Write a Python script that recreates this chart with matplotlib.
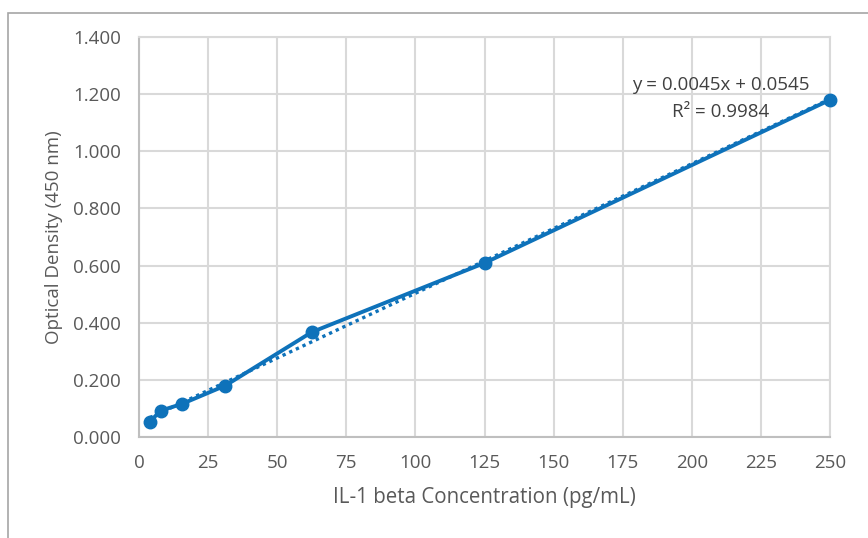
import matplotlib.pyplot as plt
import numpy as np
from matplotlib.patches import Rectangle

# standard curve readings
conc = [3.9, 7.8, 15.6, 31.25, 62.5, 125, 250]
od = [0.053, 0.092, 0.116, 0.180, 0.367, 0.609, 1.180]
x_ticks = [0, 25, 50, 75, 100, 125, 150, 175, 200, 225, 250]
y_ticks = [0.0, 0.2, 0.4, 0.6, 0.8, 1.0, 1.2, 1.4]
eq_text = "y = 0.0045x + 0.0545"
r2_text = "R² = 0.9984"

blue = "#0E72BA"
grid = "#D9D9D9"
txt = "#595959"

plt.rcParams['font.family'] = ['Open Sans', 'DejaVu Sans']

fig = plt.figure(figsize=(8.68, 5.38), dpi=100)
ax = fig.add_axes([139 / 868, 101 / 538, 691 / 868, 400 / 538])

# outer chart frame (cropped at the right and bottom)
fig.patches.append(Rectangle((8 / 868, -0.1), 1.2, 0.1 + 525 / 538,
                             transform=fig.transFigure, fill=False,
                             edgecolor="#A6A6A6", linewidth=1.2))

ax.plot(conc, od, color=blue, linewidth=2.8, marker="o", markersize=9,
        zorder=3, clip_on=False)

# linear trendline
slope, intercept = np.polyfit(conc, od, 1)
xt = np.array([conc[0], conc[-1]])
ax.plot(xt, slope * xt + intercept, color=blue, linewidth=2.4,
        linestyle=(0, (1, 1.2)), zorder=2)

ax.text(210.5, 1.232, eq_text, ha="center", va="center", fontsize=13.5, color="#404040")
ax.text(210.5, 1.137, r2_text, ha="center", va="center", fontsize=13.5, color="#404040")

ax.set_xlim(0, 250)
ax.set_ylim(0, 1.4)
ax.set_xticks(x_ticks)
ax.set_yticks(y_ticks)
ax.set_yticklabels([f"{v:.3f}" for v in y_ticks])
ax.tick_params(length=0, labelsize=13.5, labelcolor=txt)
ax.tick_params(axis='y', pad=13)
ax.tick_params(axis='x', pad=12)
ax.grid(True, color=grid, linewidth=1.5)
ax.set_axisbelow(True)
for s in ax.spines.values():
    s.set_color(grid)
    s.set_linewidth(1.5)
ax.spines['left'].set_color("#BFBFBF")
ax.spines['bottom'].set_color("#BFBFBF")

ax.set_xlabel("IL-1 beta Concentration (pg/mL)", fontsize=14.8, color=txt, labelpad=11)
ax.set_ylabel("Optical Density (450 nm)", fontsize=13.5, color=txt, labelpad=7)

fig.savefig("out.png", dpi=100)
